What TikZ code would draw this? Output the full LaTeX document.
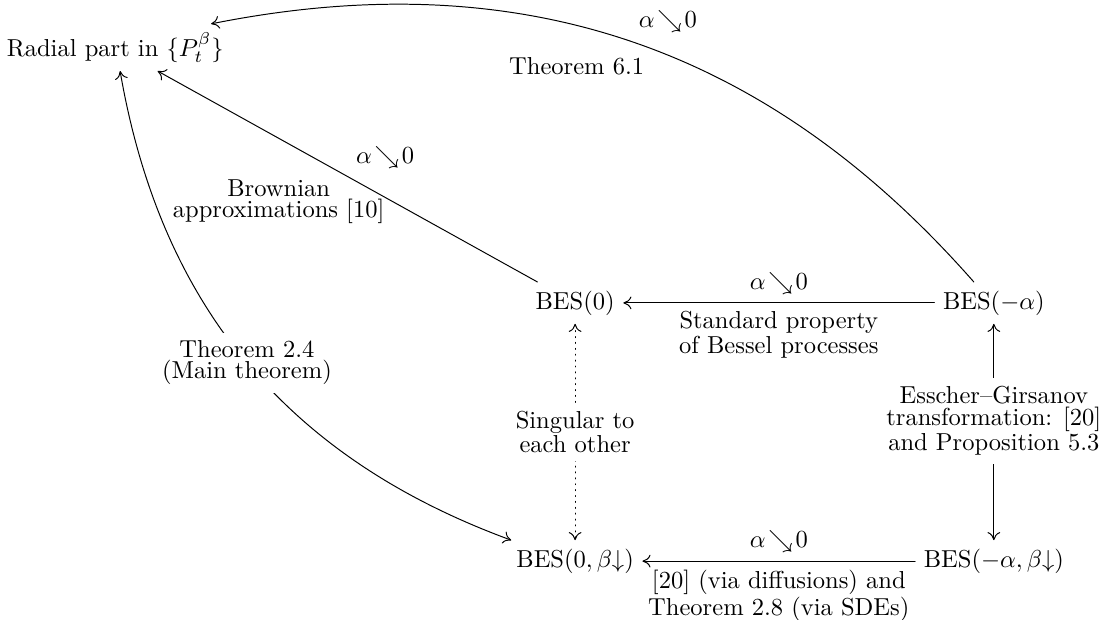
\documentclass[tikz,border=0pt]{standalone}
\usepackage{amssymb}
\usetikzlibrary{arrows.meta}
\newcommand\tightlines{\baselineskip=0pt\relax}
\newcommand\alz{$\alpha\mkern2mu{\searrow}\mkern2mu0$}
\begin{document}
\begin{tikzpicture}[line cap=round,line join=round,
  >={Computer Modern Rightarrow[length=3.3pt,width=5.2pt]},
  lbl/.style={align=center,font=\tightlines}]
  \def\W{6.00}
  \def\H{3.70}
  \useasboundingbox (-8.24,-0.83) rectangle (7.65,8.04);
  \node (radial) at (-6.59,7.36) {Radial part in $\{P_t^{\beta}\}$};
  \node (bes0) at (0,\H) {BES$(0)$};
  \node (besa) at (\W,\H) {BES$(-\alpha)$};
  \node (bes0b) at (0,0) {BES$(0,\beta{\downarrow})$};
  \node (besab) at (\W,0) {BES$(-\alpha,\beta{\downarrow})$};
  \draw[->] (besa) to[bend right=30] node[pos=0.5,anchor=south west] {\alz} node[pos=0.47,anchor=north east] {Theorem 6.1} (radial);
  \draw[->] (bes0) -- node[pos=0.5,anchor=south west] {\alz} node[pos=0.38,anchor=east,lbl] {Brownian\\approximations [10]} (radial);
  \draw[<->] (radial) to[bend right=30] node[pos=0.5,lbl,fill=white] {Theorem 2.4\\(Main theorem)} (bes0b);
  \draw[->] (besa) -- node[above] {\alz} node[below,lbl] {Standard property\\of Bessel processes} (bes0);
  \draw[->] (besab) -- node[above] {\alz} node[below,lbl] {[20] (via diffusions) and\\Theorem 2.8 (via SDEs)} (bes0b);
  \draw[<->,dotted] (bes0) -- node[lbl,fill=white] {Singular to\\each other} (bes0b);
  \draw[<->] (besa) -- node[pos=0.45,lbl,fill=white] {Esscher--Girsanov\\transformation: [20]\\and Proposition 5.3} (besab);
\end{tikzpicture}
\end{document}
